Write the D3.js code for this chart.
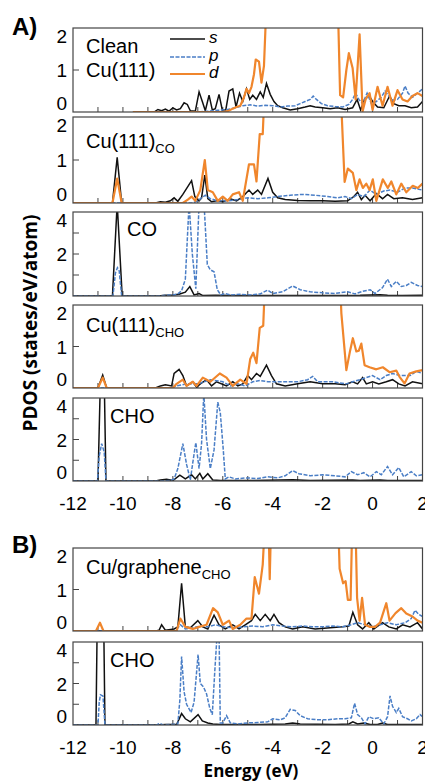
<!DOCTYPE html>
<html>
<head>
<meta charset="utf-8">
<script src="https://cdn.jsdelivr.net/npm/d3@7"></script>
<style>
  body { margin: 0; background: #fff; }
  svg { display: block; }
</style>
</head>
<body>
<div id="chart"></div>
<script>
// ---- data: [energy (eV), PDOS] ----
var energyTicks = [-12, -10, -8, -6, -4, -2, 0, 2];

// A) clean Cu(111)
var cleanS = [[-9.6,0],[-8.75,0],[-8.6,0.06],[-8.45,0.03],[-8.3,0.07],[-8.15,0.02],[-8.0,0.1],[-7.85,0.05],[-7.7,0.08],[-7.55,0.22],[-7.42,0.18],[-7.3,0.03],[-7.1,0.02],[-6.95,0.48],[-6.82,0.25],[-6.7,0.03],[-6.55,0.4],[-6.42,0.05],[-6.3,0.08],[-6.15,0.42],[-6.02,0.05],[-5.88,0.05],[-5.75,0.5],[-5.6,0.55],[-5.47,0.12],[-5.33,0.45],[-5.2,0.25],[-5.05,0.55],[-4.92,0.3],[-4.8,0.4],[-4.65,0.3],[-4.5,0.48],[-4.38,0.35],[-4.25,0.68],[-4.1,0.42],[-3.95,0.25],[-3.8,0.15],[-3.6,0.1],[-3.3,0.05],[-3.0,0.08],[-2.7,0.12],[-2.5,0.15],[-2.3,0.12],[-2.0,0.1],[-1.7,0.08],[-1.4,0.1],[-1.1,0.06],[-0.8,0.1],[-0.62,0.3],[-0.48,0.05],[-0.32,0.3],[-0.15,0.4],[0.0,0.25],[0.2,0.12],[0.45,0.1],[0.68,0.38],[0.85,0.2],[1.05,0.15],[1.3,0.15],[1.55,0.1],[1.8,0.12],[2.0,0.25]];
var cleanP = [[-9.6,0],[-7.0,0],[-6.6,0.02],[-6.2,0.04],[-5.8,0.06],[-5.5,0.1],[-5.2,0.15],[-4.9,0.17],[-4.6,0.14],[-4.3,0.16],[-4.0,0.15],[-3.7,0.12],[-3.4,0.14],[-3.1,0.15],[-2.9,0.2],[-2.7,0.25],[-2.5,0.3],[-2.38,0.38],[-2.25,0.3],[-2.05,0.2],[-1.8,0.15],[-1.5,0.13],[-1.2,0.12],[-0.95,0.18],[-0.8,0.3],[-0.68,0.45],[-0.55,0.3],[-0.4,0.2],[-0.22,0.45],[-0.05,0.2],[0.15,0.25],[0.35,0.35],[0.5,0.5],[0.62,0.4],[0.8,0.28],[1.0,0.3],[1.2,0.45],[1.3,0.62],[1.42,0.45],[1.6,0.35],[1.8,0.45],[2.0,0.55]];
var cleanD = [[-9.6,0],[-6.0,0],[-5.8,0.02],[-5.6,0.08],[-5.45,0.12],[-5.3,0.15],[-5.15,0.35],[-5.05,0.55],[-4.95,0.45],[-4.85,0.6],[-4.75,0.9],[-4.68,1.25],[-4.55,1.2],[-4.45,0.7],[-4.35,1.1],[-4.25,2.6],[-4.0,4],[-3.0,4],[-2.0,4],[-1.45,4],[-1.3,0.4],[-1.18,0.35],[-1.05,1.0],[-0.95,1.4],[-0.8,1.05],[-0.68,0.3],[-0.52,1.85],[-0.4,0.02],[-0.28,0.3],[-0.12,0.45],[0.0,0.05],[0.2,0.6],[0.4,0.15],[0.6,0.6],[0.8,0.15],[1.0,0.52],[1.2,0.3],[1.4,0.25],[1.6,0.38],[1.8,0.45],[2.0,0.38]];

// A) Cu(111) with CO
var coSurfS = [[-12,0],[-10.42,0],[-10.23,1.06],[-10.05,0],[-8.7,0],[-8.5,0.03],[-8.3,0.02],[-8.1,0.05],[-7.95,0.12],[-7.8,0.04],[-7.6,0.2],[-7.25,0.52],[-7.12,0.15],[-6.95,0.05],[-6.85,0.12],[-6.72,0.65],[-6.6,0.1],[-6.45,0.03],[-6.2,0.06],[-6.0,0.03],[-5.7,0.1],[-5.45,0.05],[-5.2,0.15],[-4.95,0.3],[-4.8,0.2],[-4.6,0.3],[-4.45,0.2],[-4.19,0.57],[-4.0,0.25],[-3.8,0.12],[-3.5,0.08],[-3.0,0.06],[-2.5,0.05],[-2.0,0.05],[-1.5,0.04],[-1.0,0.05],[-0.75,0.15],[-0.6,0.25],[-0.45,0.08],[-0.3,0.18],[-0.1,0.05],[0.15,0.22],[0.4,0.1],[0.6,0.2],[0.85,0.1],[1.2,0.12],[1.6,0.08],[2.0,0.12]];
var coSurfP = [[-12,0],[-7.2,0],[-7.0,0.05],[-6.85,0.12],[-6.7,0.18],[-6.5,0.1],[-6.2,0.05],[-5.8,0.05],[-5.4,0.08],[-5.0,0.12],[-4.6,0.1],[-4.2,0.12],[-3.8,0.15],[-3.3,0.18],[-2.8,0.2],[-2.3,0.18],[-1.8,0.15],[-1.4,0.12],[-1.1,0.15],[-0.85,0.1],[-0.6,0.2],[-0.35,0.15],[-0.1,0.3],[0.15,0.2],[0.45,0.28],[0.7,0.3],[1.0,0.25],[1.3,0.35],[1.6,0.35],[2.0,0.3]];
var coSurfD = [[-12,0],[-10.42,0],[-10.23,0.57],[-10.05,0],[-7.6,0],[-7.4,0.08],[-7.25,0.15],[-7.1,0.05],[-6.9,0.3],[-6.72,1.0],[-6.6,0.3],[-6.4,0.25],[-6.2,0.05],[-6.0,0.15],[-5.8,0.05],[-5.6,0.2],[-5.35,0.25],[-5.2,0.05],[-4.95,0.9],[-4.75,0.9],[-4.65,0.5],[-4.52,1.6],[-4.4,1.6],[-4.3,3],[-4.1,4],[-2.0,4],[-1.38,4],[-1.12,0.49],[-0.99,0.8],[-0.79,0.7],[-0.65,0.3],[-0.52,0.55],[-0.39,0.35],[-0.25,0.45],[-0.12,0.3],[0.01,0.55],[0.15,0.05],[0.41,0.55],[0.61,0.35],[0.75,0.5],[0.95,0.2],[1.15,0.45],[1.35,0.25],[1.61,0.4],[1.81,0.35],[2.0,0.45]];

// A) free CO
var coS = [[-12,0],[-10.42,0],[-10.23,4.4],[-10.03,0],[-8.6,0],[-8.3,0.03],[-8.0,0.05],[-7.75,0.08],[-7.5,0.18],[-7.32,0.45],[-7.15,0.05],[-6.95,0.12],[-6.8,0.02],[-6.3,0.03],[-5.5,0.02],[-4.0,0.02],[-2.0,0.02],[-0.5,0.03],[0.3,0.06],[0.6,0.04],[1.2,0.02],[2.0,0.03]];
var coP = [[-12,0],[-10.4,0],[-10.3,1.1],[-10.22,1.35],[-10.15,1.2],[-10.05,0],[-8.6,0],[-8.3,0.03],[-8.0,0.05],[-7.8,0.1],[-7.65,0.25],[-7.5,0.8],[-7.35,4.4],[-7.22,2.0],[-7.08,0.35],[-6.95,4.4],[-6.85,4.6],[-6.75,4.4],[-6.62,1.5],[-6.5,1.25],[-6.35,1.15],[-6.22,0.3],[-6.08,0.05],[-5.9,0.12],[-5.7,0.05],[-5.3,0.08],[-4.9,0.05],[-4.5,0.1],[-4.2,0.28],[-4.0,0.12],[-3.6,0.2],[-3.2,0.48],[-2.9,0.3],[-2.5,0.2],[-2.0,0.15],[-1.5,0.12],[-1.0,0.2],[-0.7,0.1],[-0.4,0.22],[-0.1,0.3],[0.1,0.12],[0.4,0.4],[0.6,0.8],[0.75,0.45],[0.95,0.7],[1.15,0.45],[1.35,0.5],[1.55,0.65],[1.8,0.5],[2.0,0.45]];

// A) Cu(111) with CHO
var choSurfS = [[-12,0],[-11.0,0],[-10.81,0.31],[-10.65,0],[-8.7,0],[-8.5,0.05],[-8.3,0.08],[-8.05,0.05],[-7.95,0.35],[-7.75,0.45],[-7.6,0.3],[-7.45,0.05],[-7.2,0.15],[-7.05,0.02],[-6.9,0.1],[-6.65,0.2],[-6.45,0.05],[-6.25,0.15],[-5.85,0.05],[-5.6,0.15],[-5.4,0.05],[-5.2,0.1],[-5.0,0.3],[-4.85,0.2],[-4.65,0.35],[-4.5,0.28],[-4.25,0.55],[-4.05,0.3],[-3.85,0.1],[-3.5,0.05],[-3.0,0.1],[-2.5,0.15],[-2.0,0.1],[-1.5,0.1],[-1.1,0.08],[-0.8,0.15],[-0.6,0.1],[-0.4,0.25],[-0.25,0.1],[0.0,0.15],[0.25,0.1],[0.55,0.15],[0.8,0.2],[1.05,0.1],[1.3,0.05],[1.6,0.15],[2.0,0.1]];
var choSurfP = [[-12,0],[-8.1,0],[-7.85,0.05],[-7.45,0.1],[-7.0,0.1],[-6.5,0.2],[-6.0,0.15],[-5.7,0.05],[-5.4,0.1],[-5.1,0.05],[-4.8,0.15],[-4.5,0.18],[-4.2,0.15],[-3.7,0.15],[-3.0,0.15],[-2.6,0.2],[-2.4,0.28],[-2.2,0.15],[-1.6,0.15],[-1.05,0.1],[-0.8,0.15],[-0.5,0.2],[-0.25,0.25],[0.0,0.3],[0.3,0.2],[0.55,0.3],[0.8,0.35],[1.1,0.3],[1.5,0.3],[1.75,0.4],[2.0,0.35]];
var choSurfD = [[-12,0],[-11.0,0],[-10.81,0.25],[-10.65,0],[-8.0,0],[-7.85,0.1],[-7.6,0.2],[-7.45,0.05],[-7.2,0.15],[-7.05,0.05],[-6.8,0.25],[-6.5,0.15],[-6.12,0.35],[-5.85,0.25],[-5.6,0.05],[-5.3,0.2],[-5.05,0.1],[-4.9,0.7],[-4.78,0.85],[-4.65,0.6],[-4.52,1.45],[-4.38,1.5],[-4.28,3],[-4.1,4],[-2.0,4],[-1.4,4],[-1.25,1.8],[-1.05,0.43],[-0.9,0.9],[-0.79,1.2],[-0.65,0.88],[-0.55,0.9],[-0.45,1.07],[-0.32,0.55],[-0.12,0.5],[0.15,0.45],[0.41,0.5],[0.68,0.38],[0.95,0.42],[1.08,0.27],[1.28,0.11],[1.48,0.35],[1.75,0.4],[2.0,0.43]];

// A) free CHO
var choS = [[-12,0],[-11.0,0],[-10.9,5],[-10.75,5],[-10.68,0],[-8.7,0],[-8.5,0.05],[-8.25,0.08],[-8.0,0.02],[-7.72,0.28],[-7.5,0.1],[-7.25,0.3],[-7.1,0.1],[-6.92,0.37],[-6.8,0.1],[-6.6,0.35],[-6.4,0.05],[-6.1,0.02],[-5.0,0.02],[-3.2,0.06],[-2.5,0.02],[-0.8,0.05],[-0.5,0.02],[0.3,0.05],[0.6,0.02],[2.0,0.02]];
var choP = [[-12,0],[-11.02,0],[-10.95,1.2],[-10.85,1.8],[-10.75,1.4],[-10.68,0],[-8.5,0],[-8.1,0.02],[-7.95,0.1],[-7.8,0.6],[-7.6,1.8],[-7.45,0.8],[-7.3,0.05],[-7.2,0.9],[-7.08,1.85],[-6.95,0.6],[-6.85,1.8],[-6.76,4.2],[-6.65,2.0],[-6.5,0.6],[-6.35,1.5],[-6.2,3.8],[-6.1,3.3],[-5.98,1.5],[-5.9,0.1],[-5.75,0.2],[-5.5,0.1],[-5.1,0.15],[-4.6,0.12],[-4.2,0.2],[-3.8,0.15],[-3.5,0.25],[-3.2,0.5],[-2.95,0.35],[-2.5,0.25],[-2.0,0.3],[-1.5,0.25],[-1.1,0.2],[-0.85,0.45],[-0.6,0.3],[-0.35,0.4],[-0.1,0.2],[0.15,0.45],[0.35,0.3],[0.6,0.7],[0.8,0.3],[1.05,0.65],[1.25,0.2],[1.55,0.45],[1.75,0.25],[2.0,0.3]];

// B) Cu/graphene with CHO
var grS = [[-12,0],[-8.7,0],[-8.55,0.02],[-8.45,0.15],[-8.3,0.02],[-7.95,0.05],[-7.8,0.1],[-7.65,1.15],[-7.5,0.1],[-7.3,0.08],[-7.0,0.25],[-6.8,0.1],[-6.6,0.05],[-6.35,0.38],[-6.15,0.15],[-5.9,0.05],[-5.6,0.15],[-5.35,0.05],[-5.1,0.15],[-4.85,0.25],[-4.7,0.4],[-4.5,0.25],[-4.3,0.4],[-4.1,0.25],[-3.95,0.4],[-3.75,0.2],[-3.5,0.1],[-3.2,0.05],[-2.8,0.1],[-2.3,0.05],[-1.7,0.08],[-1.2,0.1],[-0.95,0.12],[-0.79,0.45],[-0.6,0.15],[-0.4,0.05],[-0.15,0.2],[0.05,0.05],[0.4,0.2],[0.65,0.1],[0.95,0.05],[1.2,0.15],[1.5,0.1],[1.8,0.2],[2.0,0.05]];
var grP = [[-12,0],[-7.9,0],[-7.7,0.15],[-7.5,0.05],[-7.2,0.08],[-6.9,0.12],[-6.6,0.1],[-6.3,0.15],[-6.0,0.1],[-5.6,0.08],[-5.2,0.1],[-4.8,0.12],[-4.4,0.1],[-4.0,0.15],[-3.6,0.12],[-3.2,0.1],[-2.8,0.12],[-2.4,0.1],[-2.0,0.1],[-1.6,0.12],[-1.2,0.1],[-0.85,0.15],[-0.6,0.2],[-0.3,0.15],[0.0,0.1],[0.3,0.15],[0.6,0.2],[0.95,0.15],[1.3,0.2],[1.55,0.3],[1.7,0.5],[1.85,0.4],[2.0,0.35]];
var grD = [[-12,0],[-11.08,0],[-10.92,0.2],[-10.78,0],[-7.85,0],[-7.7,0.3],[-7.5,0.1],[-7.2,0.05],[-6.95,0.1],[-6.65,0.15],[-6.39,0.55],[-6.2,0.45],[-6.0,0.15],[-5.75,0.25],[-5.6,0.05],[-5.3,0.15],[-5.05,0.3],[-4.85,0.3],[-4.72,1.3],[-4.55,0.9],[-4.4,1.6],[-4.28,3],[-4.18,3],[-4.12,1.25],[-4.05,3],[-3.95,4],[-2.0,4],[-1.45,4],[-1.32,1.5],[-1.18,1.15],[-1.08,1.2],[-0.99,0.75],[-0.88,0.75],[-0.8,3],[-0.7,3],[-0.62,0.8],[-0.52,0.25],[-0.42,0.8],[-0.3,0.15],[-0.12,0.1],[0.1,0.1],[0.3,0.2],[0.55,0.67],[0.68,0.25],[0.92,0.43],[1.15,0.55],[1.35,0.42],[1.6,0.35],[1.8,0.25],[2.0,0.2]];

// B) free CHO
var choBS = [[-12,0],[-11.08,0],[-11.03,5],[-10.77,5],[-10.72,0],[-8.6,0],[-8.3,0.02],[-7.85,0.02],[-7.65,0.55],[-7.5,0.3],[-7.3,0.15],[-6.99,0.5],[-6.82,0.2],[-6.6,0.1],[-6.4,0.05],[-6.1,0.02],[-4.5,0.02],[-3.5,0.05],[-3.2,0.1],[-2.9,0.05],[-1.5,0.02],[-0.95,0.05],[-0.79,0.15],[-0.6,0.05],[-0.35,0.1],[-0.1,0.02],[0.2,0.02],[0.4,0.1],[0.6,0.02],[2.0,0.02]];
var choBP = [[-12,0],[-11.0,0],[-10.95,1.1],[-10.9,1.45],[-10.8,1.4],[-10.72,0],[-8.65,0],[-8.52,0.08],[-8.4,0],[-7.8,0.05],[-7.72,1.2],[-7.65,3.3],[-7.55,1.6],[-7.45,1.0],[-7.27,0.6],[-7.15,1.1],[-6.99,3.4],[-6.9,2.0],[-6.78,1.85],[-6.65,1.5],[-6.52,0.8],[-6.42,0.5],[-6.32,2.6],[-6.22,4.5],[-6.15,4.5],[-6.1,0.1],[-6.0,0.1],[-5.85,0.45],[-5.7,0.1],[-5.4,0.05],[-5.0,0.1],[-4.6,0.12],[-4.2,0.15],[-4.0,0.3],[-3.7,0.25],[-3.5,0.35],[-3.3,0.75],[-3.1,0.7],[-2.9,0.45],[-2.6,0.3],[-2.2,0.25],[-1.8,0.25],[-1.4,0.3],[-1.1,0.3],[-0.85,0.35],[-0.72,1.05],[-0.6,0.5],[-0.45,0.35],[-0.3,0.05],[-0.15,0.4],[0.05,0.3],[0.25,0.35],[0.45,0.05],[0.6,0.4],[0.7,1.4],[0.8,0.9],[0.95,0.6],[1.05,0.8],[1.2,0.4],[1.4,0.3],[1.55,0.2],[1.75,0.3],[1.9,0.5],[2.0,0.4]];

var panelNames = ["Clean", "Cu(111)", "CO", "Cu(111)", "CHO", "Cu/graphene", "CHO"];
var panelSubs  = ["", "CO", "", "CHO", "", "CHO", ""];
var panelMax   = [2, 2, 4, 2, 4, 2, 4];
var panelS = [cleanS, coSurfS, coS, choSurfS, choS, grS, choBS];
var panelP = [cleanP, coSurfP, coP, choSurfP, choP, grP, choBP];
var panelD = [cleanD, coSurfD, null, choSurfD, null, grD, null];

// ---- layout ----
var W = 425, H = 783;
var left = 73, right = 422.5;
var tops    = [28, 117, 212, 305, 398, 548, 642];
var bottoms = [112, 203, 296, 388, 481, 631, 725];
var labelPos = [[86, 53], [86, 148], [127, 236], [86, 332], [110, 423], [86, 574], [110, 667]];

var colS = "#111", colP = "#4a7ec6", colD = "#f0862c";
var dashP = "4,1.5";
var tickFont = "'Liberation Sans', Arial, sans-serif";
var titleFont = "'Open Sans', 'Liberation Sans', sans-serif";

var svg = d3.select("#chart").append("svg")
  .attr("width", W).attr("height", H)
  .attr("viewBox", "0 0 " + W + " " + H);

var x = d3.scaleLinear().domain([-12, 2]).range([left, right]);
var defs = svg.append("defs");

panelNames.forEach(function (name, i) {
  var y = d3.scaleLinear().domain([0, panelMax[i]]).range([bottoms[i], tops[i]]);
  var g = svg.append("g");

  defs.append("clipPath").attr("id", "clip" + i)
    .append("rect")
    .attr("x", left).attr("y", tops[i])
    .attr("width", right - left).attr("height", bottoms[i] - tops[i]);

  var line = d3.line()
    .x(function (d) { return x(d[0]); })
    .y(function (d) { return y(d[1]); });

  var plot = g.append("g").attr("clip-path", "url(#clip" + i + ")");

  // x ticks every 1 eV, pointing up into the box
  plot.selectAll("line.xt")
    .data(d3.range(-11, 2, 1))
    .enter().append("line")
    .attr("x1", function (d) { return x(d); })
    .attr("x2", function (d) { return x(d); })
    .attr("y1", bottoms[i]).attr("y2", bottoms[i] - 5)
    .attr("stroke", "#444").attr("stroke-width", 1);

  // y ticks inside
  var yt = panelMax[i] == 2 ? [1] : [1, 2, 3];
  plot.selectAll("line.yt")
    .data(yt)
    .enter().append("line")
    .attr("x1", left).attr("x2", left + 6)
    .attr("y1", function (d) { return y(d); })
    .attr("y2", function (d) { return y(d); })
    .attr("stroke", "#444").attr("stroke-width", 1);

  plot.append("path").datum(panelS[i])
    .attr("d", line).attr("fill", "none")
    .attr("stroke", colS).attr("stroke-width", 1.5);
  plot.append("path").datum(panelP[i])
    .attr("d", line).attr("fill", "none")
    .attr("stroke", colP).attr("stroke-width", 1.5)
    .attr("stroke-dasharray", dashP);
  if (panelD[i]) {
    plot.append("path").datum(panelD[i])
      .attr("d", line).attr("fill", "none")
      .attr("stroke", colD).attr("stroke-width", 2.2)
      .attr("stroke-linejoin", "round");
  }

  // frame
  g.append("rect")
    .attr("x", left).attr("y", tops[i])
    .attr("width", right - left).attr("height", bottoms[i] - tops[i])
    .attr("fill", "none").attr("stroke", "#444").attr("stroke-width", 1.2);

  // y tick labels, kept inside the frame height
  var yl = panelMax[i] == 2 ? [0, 1, 2] : [0, 2, 4];
  g.selectAll("text.yl")
    .data(yl)
    .enter().append("text")
    .attr("x", 67)
    .attr("y", function (d) {
      return Math.max(tops[i] + 8, Math.min(bottoms[i] - 9, y(d))) + 7;
    })
    .attr("text-anchor", "end")
    .style("font-family", tickFont).style("font-size", "19px")
    .text(function (d) { return d; });

  // panel label
  var t = g.append("text")
    .attr("x", labelPos[i][0]).attr("y", labelPos[i][1])
    .style("font-family", tickFont).style("font-size", "20px");
  t.append("tspan").text(name);
  if (panelSubs[i]) {
    t.append("tspan").attr("dy", 5).style("font-size", "13px").text(panelSubs[i]);
  }
  if (i == 0) {
    g.append("text")
      .attr("x", 86).attr("y", 77)
      .style("font-family", tickFont).style("font-size", "20px")
      .text("Cu(111)");
  }
});

// x axis labels under the last panel of A and B
[bottoms[4], bottoms[6]].forEach(function (b) {
  svg.append("g").selectAll("text")
    .data(energyTicks)
    .enter().append("text")
    .attr("x", function (d) { return x(d); })
    .attr("y", b + 29)
    .attr("text-anchor", "middle")
    .style("font-family", tickFont).style("font-size", "19px")
    .text(function (d) { return d; });
});

// legend (panel A top)
var legend = [["s", colS, null, 39], ["p", colP, dashP, 57], ["d", colD, null, 74]];
legend.forEach(function (l) {
  svg.append("line")
    .attr("x1", 170).attr("x2", 205).attr("y1", l[3]).attr("y2", l[3])
    .attr("stroke", l[1]).attr("stroke-width", l[0] == "d" ? 2.2 : 1.5)
    .attr("stroke-dasharray", l[2]);
  svg.append("text")
    .attr("x", 209).attr("y", l[3] + 4)
    .style("font-family", tickFont).style("font-size", "17px")
    .style("font-style", "italic")
    .text(l[0]);
});

// part labels
svg.append("text").attr("x", 12).attr("y", 35)
  .style("font-family", tickFont).style("font-size", "24px").style("font-weight", "bold")
  .text("A)");
svg.append("text").attr("x", 12).attr("y", 553)
  .style("font-family", tickFont).style("font-size", "24px").style("font-weight", "bold")
  .text("B)");

// axis titles
svg.append("text")
  .attr("transform", "translate(37,323) rotate(-90)")
  .attr("text-anchor", "middle")
  .style("font-family", titleFont).style("font-size", "19px").style("font-weight", "bold")
  .text("PDOS (states/eV/atom)");
svg.append("text")
  .attr("x", 251).attr("y", 777)
  .attr("text-anchor", "middle")
  .style("font-family", titleFont).style("font-size", "17px").style("font-weight", "bold")
  .text("Energy (eV)");
</script>
</body>
</html>
